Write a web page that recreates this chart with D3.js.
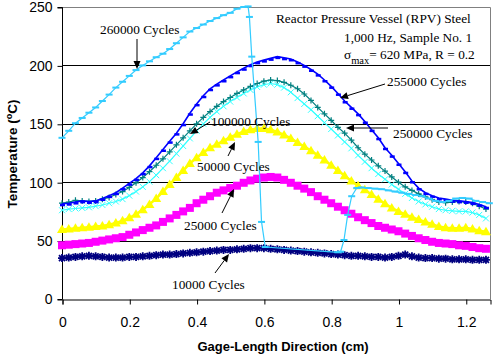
<!DOCTYPE html>
<html><head><meta charset="utf-8">
<script src="https://cdn.jsdelivr.net/npm/d3@7"></script>
<style>body{margin:0;background:#fff}</style>
</head><body>
<svg id="c" width="500" height="358"></svg>
<script>
// ---- data ----
const xGrid = [0,0.02,0.04,0.06,0.08,0.1,0.12,0.14,0.16,0.18,0.2,0.22,0.24,0.26,0.28,0.3,0.32,0.34,0.36,0.38,0.4,0.42,0.44,0.46,0.48,0.5,0.52,0.54,0.56,0.58,0.6,0.62,0.64,0.66,0.68,0.7,0.72,0.74,0.76,0.78,0.8,0.82,0.84,0.86,0.88,0.9,0.92,0.94,0.96,0.98,1,1.02,1.04,1.06,1.08,1.1,1.12,1.14,1.16,1.18,1.2,1.22,1.24,1.26];
const s10000 = [35,35.5,36,36.5,37,36.5,36,35.5,35.5,35.5,36,36,36.5,37,37.5,38,38,38.5,39,39.5,40,40.5,41,41.5,42,42,42.5,43,43.5,43.5,43.5,43,42.5,42,41.5,41,40.5,40,39.5,39,38.5,38,37.5,37,37,36.5,36,36,35.5,36,37,38,36.5,35.5,35,35,34.5,34.5,34,34,34,33.5,33.5,33.5];
const s25000 = [46,46.5,47,47.5,48,49,50,51,52,53,55,57,59,61,63,66,69,72,75,78,82,85,88,91,93,95,97,99.5,101.5,103,104,104.5,104,102,99.5,97,94.5,91.5,88,85,82,79,76,73,70,67.5,65,62.5,61,59.5,58,56,54,52,50.5,49,48,47.5,47,46,45.5,44.5,43.5,43];
const s50000 = [59.5,60,60.5,61,61.5,62,62.5,63.5,65,67,69.5,72.5,76.5,81,86,92,98,104,110,116,121,125.5,129.5,132.5,135.5,138.5,141,143.5,145,146,146,145,143,140.5,137.5,134,130.5,127,123,119,114.5,110,105.5,101,97,93.5,89.5,85.5,81.5,78,75,72.5,70,68,66,64,62,61,60.5,60.5,61,60,58.5,57.5];
const s100000 = [76,77,77.5,78,78.5,79.5,80.5,82,83.5,85.5,88.5,92,96,100.5,106,112,118,124.5,131,137.5,144,150,155.5,160.5,165,169,172.5,176,179,181.5,183.5,184.5,183.5,181,177,172,167,162,156.5,151,145.5,140,134.5,129,123,117.5,112,107,102.5,98,94,90,86.5,83.5,81,79,77,76,75.5,75,75,74,72,69];
const s250000 = [82,83,84.5,84,83.5,84,85.5,87,89.5,92,95.5,99.5,104,109,114.5,120,126,132,138,144,150,155.5,160.5,165,169,172.5,176,179,182,184.5,186.5,187.5,187,185.5,183,180,175.5,170,164,158.5,153,147,142,136,129.5,124,119,114,109.5,104.5,100,96,93,90,87.5,85,83,82.5,83,83.5,83,82,79.5,77];
const s255000 = [81.5,82,83,84,83.5,84,86,88.5,91,95,99,103,108,114,121,128,135,142,150,159,167,174,180,184,187.5,191,194.5,197.5,200.5,203,204.5,206,207.5,206.5,205.5,203,200,196.5,192.5,187.5,182,176,169.5,164,158.5,152,145,138,129.5,123,116,109,101,95,91,88.5,86.5,85.5,84.5,84,83.5,82.5,81,79];
const x260000 = [0,0.02,0.04,0.06,0.08,0.1,0.12,0.14,0.16,0.18,0.2,0.22,0.24,0.26,0.28,0.3,0.32,0.34,0.36,0.38,0.4,0.42,0.44,0.46,0.48,0.5,0.52,0.54,0.553,0.557,0.564,0.583,0.593,0.604,0.82,0.828,0.838,0.849,0.861,0.876,0.89,0.91,0.93,0.95,0.97,0.99,1.01,1.03,1.05,1.07,1.09,1.11,1.13,1.15,1.17,1.19,1.21,1.23,1.25,1.27];
const s260000 = [138,144,150.5,155,159.5,164,169.5,175,181,186,191,196,200,203.5,207,210,214,219,224,229,232,235,238,240.5,243,245,248.5,250,250.5,241.5,207.5,134.5,66,44.5,40,40.5,50.5,72,88,95,95.5,95,94.5,94,93,92,91,90,89,88,86,84,83,84,86,86.5,86,84,83,82];
const seriesNames = ["10000 Cycles","25000 Cycles","50000 Cycles","100000 Cycles","250000 Cycles","255000 Cycles","260000 Cycles"];
const yTicks = [0,50,100,150,200,250];
const xTicks = [0,0.2,0.4,0.6,0.8,1,1.2];
const xTickLabels = ["0","0.2","0.4","0.6","0.8","1","1.2"];
const xTitle = "Gage-Length Direction (cm)";
const noteLines = ["Reactor Pressure Vessel (RPV) Steel","1,000 Hz, Sample No. 1"];

// ---- chart ----
const svg = d3.select("#c");
const L = 62, R = 490, T = 7, B = 299;
const x = d3.scaleLinear().domain([0,1.272]).range([L,R]);
const y = d3.scaleLinear().domain([0,250]).range([B,T]);

// grid lines
svg.append("g").selectAll("line").data(yTicks.filter(d=>d>0 && d<250)).join("line")
  .attr("x1",L).attr("x2",R).attr("y1",d=>Math.round(y(d))+0.5).attr("y2",d=>Math.round(y(d))+0.5)
  .attr("stroke","#000").attr("stroke-width",1);
// plot border (top, right)
svg.append("path").attr("d",`M${L},${T+0.5}H${R+0.5}V${B}`).attr("fill","none").attr("stroke","#808080");

// axes
const yAxis = d3.axisLeft(y).tickValues(yTicks).tickSize(5).tickPadding(5).tickFormat(d3.format("d"));
const gy = svg.append("g").attr("transform",`translate(${L+0.5},0.5)`).call(yAxis);
const xAxis = d3.axisBottom(x).tickValues(xTicks).tickSize(5).tickPadding(13).tickFormat((d,i)=>xTickLabels[i]);
const gx = svg.append("g").attr("transform",`translate(0.5,${B+0.5})`).call(xAxis);
[gx,gy].forEach(g=>{
  g.select(".domain").attr("stroke","#000");
  g.selectAll(".tick line").attr("stroke","#000");
  g.selectAll("text").attr("font-family","Liberation Sans, Arial, sans-serif").attr("font-size",14).attr("fill","#000");
});
gy.select(".domain").attr("d",`M-5,${y(250)}H0V${y(0)}H-5`);

// titles
svg.append("text").attr("x",(L+R)/2+7).attr("y",351).attr("text-anchor","middle")
  .attr("font-family","Liberation Sans, Arial, sans-serif").attr("font-weight","bold").attr("font-size",13).text(xTitle);
const yt = svg.append("text").attr("transform","translate(17,154) rotate(-90)").attr("text-anchor","middle")
  .attr("font-family","Liberation Sans, Arial, sans-serif").attr("font-weight","bold").attr("font-size",13.5);
yt.append("tspan").text("Temperature (");
yt.append("tspan").attr("font-size",9).attr("dy",-5).text("o");
yt.append("tspan").attr("dy",5).text("C)");

// series
const line = d3.line().x(d=>x(d[0])).y(d=>y(d[1]));
function zip(xs,ys){return xs.map((v,i)=>[v,ys[i]]);}
const series = [
  {name:seriesNames[0], data:zip(xGrid,s10000), color:"#000080", marker:"star", lw:3},
  {name:seriesNames[1], data:zip(xGrid,s25000), color:"#FF00FF", marker:"square", lw:2},
  {name:seriesNames[2], data:zip(xGrid,s50000), color:"#FFFF00", marker:"triangle", lw:2.5},
  {name:seriesNames[3], data:zip(xGrid,s100000), color:"#33FFFF", marker:"x", lw:1.2},
  {name:seriesNames[4], data:zip(xGrid,s250000), color:"#008080", marker:"plus", lw:1.2},
  {name:seriesNames[5], data:zip(xGrid,s255000), color:"#0000FF", marker:"dash", lw:1.6},
  {name:seriesNames[6], data:zip(x260000,s260000), color:"#33CCFF", marker:"dash2", lw:1.2}
];
const plot = svg.append("g");
series.forEach(s=>{
  const g = plot.append("g");
  g.append("path").attr("d",line(s.data)).attr("fill","none").attr("stroke",s.color).attr("stroke-width",s.lw);
  const m = g.selectAll("g").data(s.data).join("g").attr("transform",d=>`translate(${x(d[0])},${y(d[1])})`);
  if(s.marker==="square") m.append("rect").attr("x",-4).attr("y",-4).attr("width",8).attr("height",8).attr("fill",s.color);
  else if(s.marker==="triangle") m.append("path").attr("d","M0,-5L5,3.5L-5,3.5Z").attr("fill",s.color);
  else if(s.marker==="star") m.append("path").attr("d","M-4,0H4M0,-4V4M-3,-3L3,3M-3,3L3,-3").attr("stroke",s.color).attr("stroke-width",1.8);
  else if(s.marker==="x") m.append("path").attr("d","M-3,-3L3,3M-3,3L3,-3").attr("stroke",s.color).attr("stroke-width",1);
  else if(s.marker==="plus") m.append("path").attr("d","M-3,0H3M0,-3V3").attr("stroke",s.color).attr("stroke-width",1.2);
  else if(s.marker==="dash") m.append("rect").attr("x",-2).attr("y",0).attr("width",5).attr("height",2.5).attr("fill",s.color);
  else if(s.marker==="dash2") m.append("rect").attr("x",-3.5).attr("y",-1).attr("width",7).attr("height",2).attr("fill",s.color);
});

// annotations
const serif = "Liberation Serif, Times New Roman, serif";
const fs = 13.3;
const labels = [
  {t:"260000 Cycles", x:100, y:34},
  {t:"255000 Cycles", x:387, y:86},
  {t:"250000 Cycles", x:393, y:138},
  {t:"100000 Cycles", x:211, y:126},
  {t:"50000 Cycles", x:197, y:171},
  {t:"25000 Cycles", x:184, y:230},
  {t:"10000 Cycles", x:172, y:289}
];
labels.forEach(l=>svg.append("text").attr("x",l.x).attr("y",l.y).attr("font-family",serif).attr("font-size",fs).text(l.t));
const arrows = [
  [137,39,137,69],[385,84,340,98],[388,128,346,128],[210,122,190,134],[228,156,235,142],[222,213,234,189],[215,273,229,254]
];
arrows.forEach(([x1,y1,x2,y2])=>{
  const a = Math.atan2(y2-y1,x2-x1), hl = 8, hw = 3.5;
  const bx = x2-hl*Math.cos(a), by = y2-hl*Math.sin(a);
  svg.append("line").attr("x1",x1).attr("y1",y1).attr("x2",bx).attr("y2",by).attr("stroke","#000").attr("stroke-width",1);
  svg.append("path").attr("d",`M${x2},${y2}L${bx+hw*Math.sin(a)},${by-hw*Math.cos(a)}L${bx-hw*Math.sin(a)},${by+hw*Math.cos(a)}Z`).attr("fill","#000");
});
svg.append("text").attr("x",276).attr("y",23).attr("font-family",serif).attr("font-size",fs).text(noteLines[0]);
svg.append("text").attr("x",344).attr("y",42).attr("font-family",serif).attr("font-size",fs).text(noteLines[1]);
const sg = svg.append("text").attr("x",344).attr("y",59).attr("font-family",serif).attr("font-size",fs);
sg.append("tspan").text("σ");
sg.append("tspan").attr("font-size",10.5).attr("dy",5).text("max");
sg.append("tspan").attr("dy",-5).text("= 620 MPa, R = 0.2");
</script>
</body></html>
